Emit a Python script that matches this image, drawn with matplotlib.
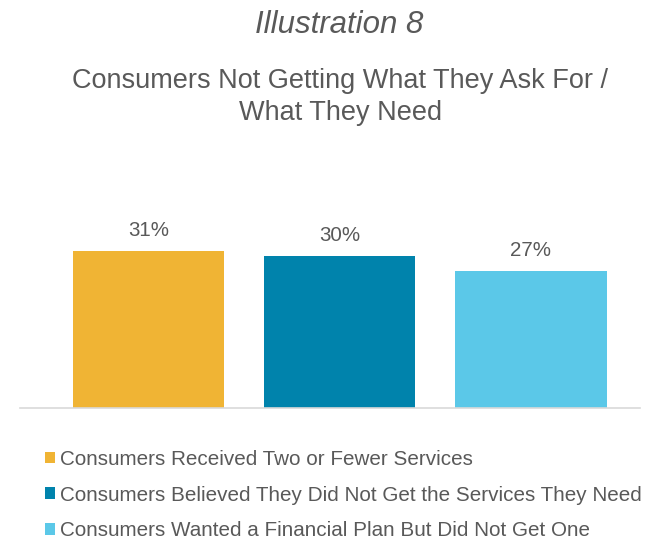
import matplotlib
matplotlib.use("Agg")
import matplotlib.pyplot as plt

plt.rcParams['font.family'] = ['Liberation Sans', 'DejaVu Sans']

categories = ["Consumers Received Two or Fewer Services",
              "Consumers Believed They Did Not Get the Services They Need",
              "Consumers Wanted a Financial Plan But Did Not Get One"]
values = [31, 30, 27]
colors = ["#F0B434", "#0083AC", "#5BC8E8"]
txt = "#595959"

fig = plt.figure(figsize=(6.58, 5.41), dpi=100)
# axes: baseline at y=408 px, spans x 20..640
ax = fig.add_axes([20 / 658, (541 - 408) / 541, 620 / 658, 203 / 541])

bars = ax.bar(range(len(values)), values, width=0.79, color=colors)
for b, v in zip(bars, values):
    ax.text(b.get_x() + b.get_width() / 2, v + 2.2, f"{v}%", ha="center", va="bottom",
            fontsize=14.8, color=txt)

ax.set_xlim(-0.67, 2.57)
ax.set_ylim(0, 40)
for s in ["top", "right", "left"]:
    ax.spines[s].set_visible(False)
ax.spines["bottom"].set_color("#D9D9D9")
ax.spines["bottom"].set_linewidth(1.2)
ax.set_xticks([])
ax.set_yticks([])

fig.text(0.516, 1 - 25 / 541, "Illustration 8", ha="center", va="center",
         fontsize=22.5, style="italic", color=txt)
fig.text(0.517, 1 - 97 / 541, "Consumers Not Getting What They Ask For /\nWhat They Need",
         ha="center", va="center", fontsize=19.5, color=txt, linespacing=1.3)

leg = ax.legend(bars, categories, loc="upper left", bbox_to_anchor=(45 / 658, 1 - 450 / 541),
                bbox_transform=fig.transFigure, frameon=False, fontsize=14.9,
                handlelength=0.48, handleheight=0.48, handletextpad=0.24, labelspacing=0.8,
                borderaxespad=0, borderpad=0)
for t in leg.get_texts():
    t.set_color(txt)

fig.savefig("out.png", dpi=100, facecolor="white")
